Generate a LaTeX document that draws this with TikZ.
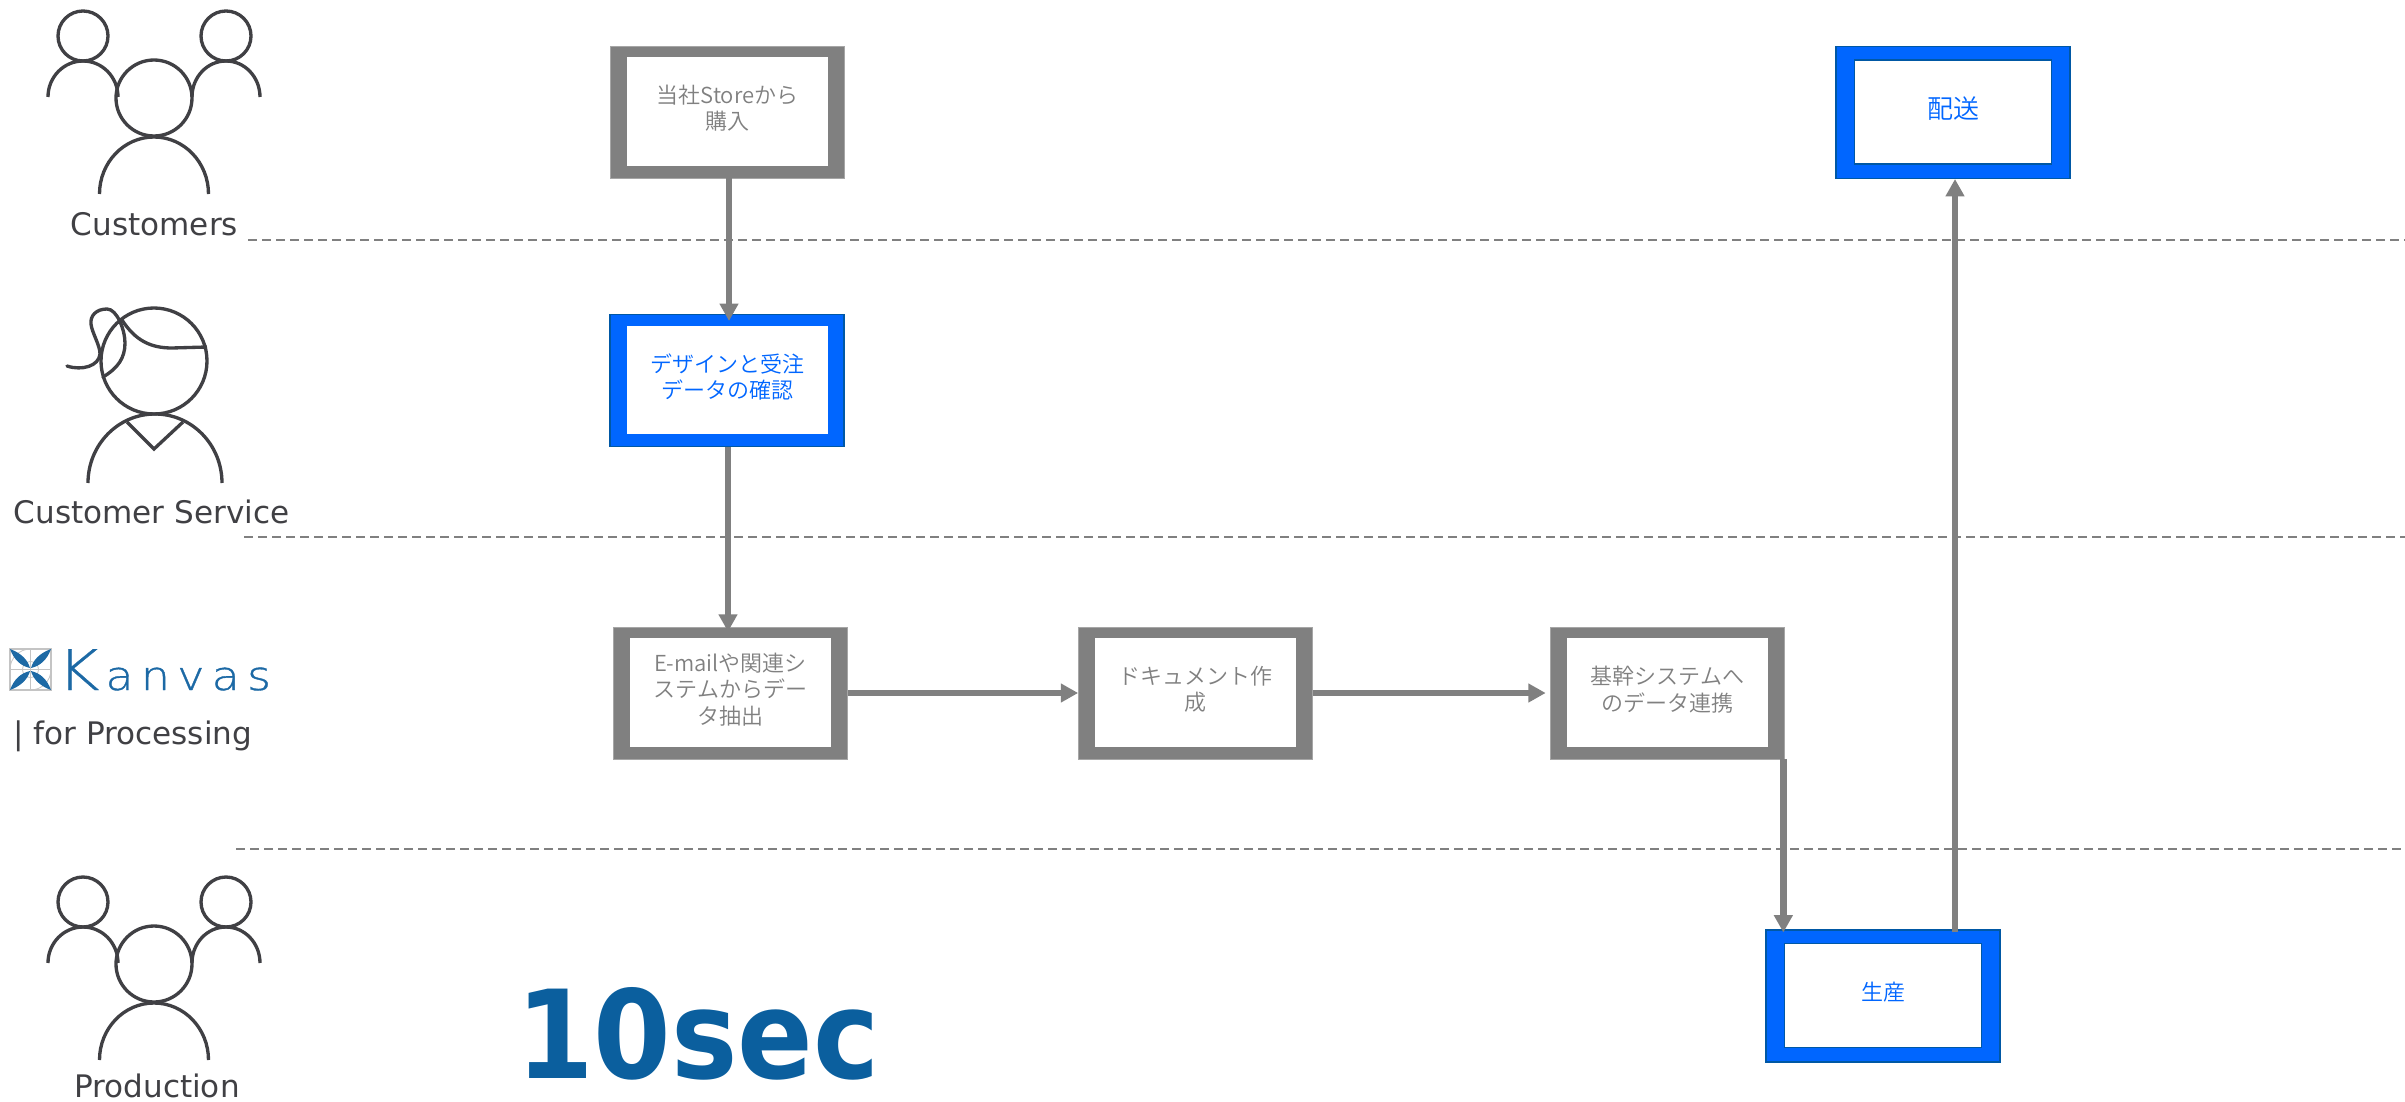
\documentclass[tikz,border=0pt]{standalone}
\usepackage{fontspec}
\usepackage{xcolor}
\usepackage{tikz}
\usetikzlibrary{arrows.meta,calc}
\setmainfont{DejaVu Sans}
\newfontfamily\jpfont{Noto Sans CJK JP DemiLight}
\newfontfamily\logofont[FakeBold=0.5,FakeStretch=1.15]{DejaVu Sans ExtraLight}
\newfontfamily\logosmall[FakeBold=0.9,FakeStretch=1.15,LetterSpace=18]{DejaVu Sans ExtraLight}
\newcommand{\boxlines}[2]{\raisebox{#1}{\begin{tabular}{@{}c@{}}#2\end{tabular}}}
\definecolor{flowgray}{RGB}{128,128,128}
\definecolor{flowblue}{RGB}{0,102,255}
\definecolor{edgeblue}{RGB}{0,88,165}
\definecolor{icongray}{RGB}{64,64,68}
\definecolor{secblue}{RGB}{11,95,158}
\definecolor{logoblue}{RGB}{28,105,165}
\definecolor{gridgray}{RGB}{196,196,196}
\tikzset{
  grayframe/.style={rectangle,fill=flowgray,draw=flowgray!70,line width=0.5pt,inner sep=0pt,minimum width=175.5pt,minimum height=99pt},
  blueframe/.style={rectangle,fill=flowblue,draw=edgeblue,line width=0.8pt,inner sep=0pt,minimum width=175.5pt,minimum height=99pt},
  graytext/.style={rectangle,fill=white,inner sep=0pt,minimum width=150.5pt,minimum height=81.5pt,text=flowgray,align=center,font=\jpfont\fontsize{16.5}{19.5}\selectfont},
  bluetext/.style={rectangle,fill=white,inner sep=0pt,minimum width=150.5pt,minimum height=81.5pt,text=flowblue,align=center,font=\jpfont\fontsize{16.5}{19.5}\selectfont},
  lanename/.style={anchor=base,inner sep=0pt,text=icongray,font=\fontsize{23.3}{27}\selectfont},
  flowarrow/.style={draw=flowgray,line width=5pt,-{Triangle[length=13pt,width=13.5pt]}},
  laneline/.style={draw=flowgray,line width=1.4pt,dash pattern=on 7pt off 3.5pt},
  iconline/.style={draw=icongray,line width=2.5pt}
}
\begin{document}
\begin{tikzpicture}[x=0.75pt,y=0.75pt,yscale=-1,xscale=1]
\useasboundingbox (0,0) rectangle (2405,1102);
% lanes
\foreach \lx/\ly in {248/240,244/537,236/849}
  \draw[laneline] (\lx,\ly) -- (2405,\ly);
% people icons
\foreach \gy in {98,964}{
  \begin{scope}[shift={(154,\gy)}]
    \draw[iconline] (0,0) circle (38);
    \draw[iconline] (-71,-62) circle (25);
    \draw[iconline] (72,-62) circle (25);
    \draw[iconline] (-54.5,96) arc[start angle=180,end angle=360,x radius=54.5,y radius=57];
    \draw[iconline] (-106,-1) arc[start angle=180,end angle=360,x radius=35,y radius=36];
    \draw[iconline] (38,-1) arc[start angle=180,end angle=360,x radius=34,y radius=36];
  \end{scope}
}
% customer service icon
\draw[iconline] (154,361) circle (53);
\draw[iconline] (88,483) arc[start angle=180,end angle=360,x radius=67,y radius=69];
\draw[iconline] (127,422) -- (154,449) -- (183,422);
\draw[iconline] (122,320) .. controls (135,340) and (150,348) .. (172,348) -- (207,347);
\draw[iconline,line cap=round] (103,377) .. controls (118,368) and (125,358) .. (125,343) .. controls (125,330) and (117,309) .. (107,309) .. controls (96,309) and (90,316) .. (91,324) .. controls (92,333) and (100,345) .. (100,354) .. controls (99,366) and (82,371) .. (67,366);
% logo
\draw[gridgray,line width=0.8pt] (10,649) rectangle (51,690);
\draw[gridgray,line width=0.6pt] (30.5,649) -- (30.5,690) (10,669.5) -- (51,669.5);
\draw[gridgray,line width=0.6pt] (10,669.5) arc[start angle=180,end angle=270,radius=20.5];
\draw[gridgray,line width=0.6pt] (30.5,690) arc[start angle=90,end angle=0,radius=20.5];
\draw[gridgray,line width=0.6pt] (30.5,669.5) circle (8);
\fill[logoblue] (10,649) .. controls (21,653) and (28,660) .. (30,668) .. controls (21,666) and (14,660) .. (10,649);
\fill[logoblue] (51,649) .. controls (40,653) and (33,660) .. (31,668) .. controls (40,666) and (47,660) .. (51,649);
\fill[logoblue] (10,690) .. controls (14,679) and (21,673) .. (30,671) .. controls (28,679) and (21,686) .. (10,690);
\fill[logoblue] (51,690) .. controls (47,679) and (40,673) .. (31,671) .. controls (33,679) and (40,686) .. (51,690);
\node (kanvas) [anchor=base west,inner sep=0pt,text=logoblue] at (57,690) {\logofont\fontsize{42}{42}\selectfont K\kern4.5pt\logosmall\fontsize{30}{30}\selectfont anvas};
% labels
\node (customers) [lanename] at (154.5,235) {Customers};
\node (service) [lanename] at (151.5,523) {Customer Service};
\node (processing) [lanename,anchor=base west] at (13,744) {| for Processing};
\node (production) [lanename] at (157,1097) {Production};
\node (tensec) [anchor=base,inner sep=0pt,text=secblue,font=\bfseries\fontsize{92}{92}\selectfont] at (698,1078) {\scalebox{0.91}[1]{10sec}};
% boxes
\node (store) [grayframe] at (727,112) {};
\node (storetext) [graytext] at (727.5,111.5) {\boxlines{2pt}{当社Storeから\\購入}};
\node (confirm) [blueframe] at (727,380.5) {};
\node (confirmtext) [bluetext] at (727.5,380) {\boxlines{2pt}{デザインと受注\\データの確認}};
\node (mail) [grayframe] at (730.5,693) {};
\node (mailtext) [graytext] at (730.5,692.5) {\boxlines{-2pt}{E-mailや関連シ\\ステムからデー\\タ抽出}};
\node (doc) [grayframe] at (1195.5,693) {};
\node (doctext) [graytext] at (1195.5,692.5) {\boxlines{1.2pt}{ドキュメント作\\成}};
\node (core) [grayframe] at (1667,693) {};
\node (coretext) [graytext] at (1667.5,692.5) {\boxlines{1.2pt}{基幹システムへ\\のデータ連携}};
\node (make) [blueframe] at (1883,996) {};
\node (maketext) [bluetext,draw=edgeblue,line width=1.2pt,minimum width=148pt,minimum height=78pt] at (1883,995.5) {\boxlines{1pt}{生産}};
\node (ship) [blueframe] at (1953,112.5) {};
\node (shiptext) [bluetext,draw=edgeblue,line width=1.2pt,minimum width=148pt,minimum height=78pt,font=\jpfont\fontsize{19.5}{23}\selectfont] at (1953,112) {\boxlines{1pt}{配送}};
% arrows
\coordinate (confirmout) at ($(confirm.south)+(1,0)$);
\coordinate (coreout) at ($(core.south east)+(-1,0)$);
\coordinate (makeout) at ($(make.north)+(72,3)$);
\draw[flowarrow] ($(store.south)+(2,0)$) -- ($(confirm.north)+(2,7)$);
\draw[flowarrow] (confirmout) -- ($(confirmout |- mail.north)+(0,5)$);
\draw[flowarrow] (mail.east) -- (doc.west);
\draw[flowarrow] (doc.east) -- ($(core.west)+(-4,0)$);
\draw[flowarrow] (coreout) -- ($(coreout |- make.north)+(0,3)$);
\draw[flowarrow] (makeout) -- (makeout |- ship.south);
\end{tikzpicture}
\end{document}
